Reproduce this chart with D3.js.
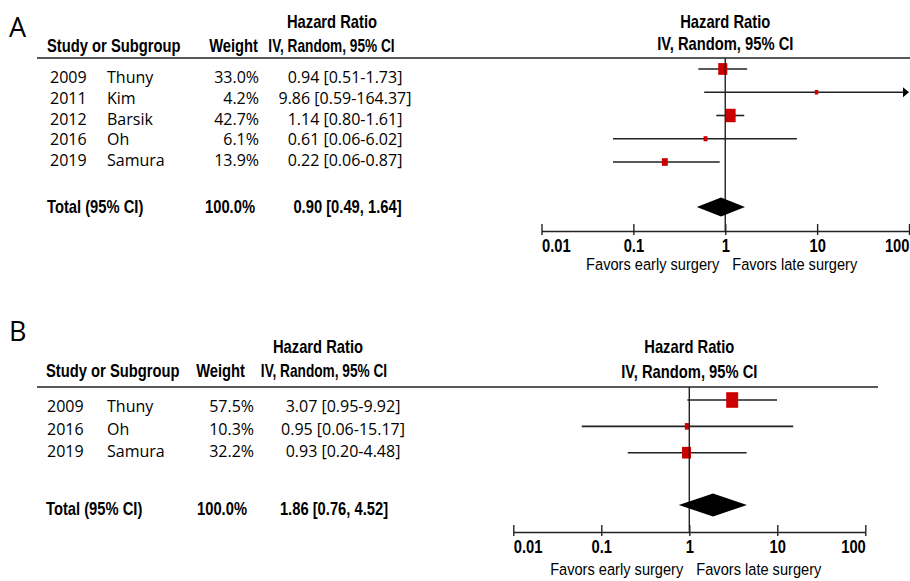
<!DOCTYPE html>
<html>
<head>
<meta charset="utf-8">
<script src="https://cdn.jsdelivr.net/npm/d3@7"></script>
<style>
  body { margin: 0; background: #fff; }
  .hd, .hd2 { font-family: "Liberation Sans", Arial, sans-serif; font-weight: bold; font-size: 18px; }
  .nr { font-family: "Liberation Sans", Arial, sans-serif; font-size: 17px; }
  .row { font-family: "Open Sans", sans-serif; font-size: 16px; }
  .panel { font-family: "Open Sans", sans-serif; font-size: 27px; }
</style>
</head>
<body>
<svg id="forest"></svg>
<script>
(function () {
var width = 910, height = 581
var svg = d3.select('#forest').attr('width', width).attr('height', height)

// panel A data
var yearsA = [2009, 2011, 2012, 2016, 2019]
var namesA = ['Thuny', 'Kim', 'Barsik', 'Oh', 'Samura']
var weightsA = [33.0, 4.2, 42.7, 6.1, 13.9]
var hrA = [0.94, 9.86, 1.14, 0.61, 0.22]
var lowA = [0.51, 0.59, 0.80, 0.06, 0.06]
var highA = [1.73, 164.37, 1.61, 6.02, 0.87]
var totalA = [0.90, 0.49, 1.64] // estimate, low, high

// panel B data
var yearsB = [2009, 2016, 2019]
var namesB = ['Thuny', 'Oh', 'Samura']
var weightsB = [57.5, 10.3, 32.2]
var hrB = [3.07, 0.95, 0.93]
var lowB = [0.95, 0.06, 0.20]
var highB = [9.92, 15.17, 4.48]
var totalB = [1.86, 0.76, 4.52]

var ticks = [0.01, 0.1, 1, 10, 100]
var tickLabels = ['0.01', '0.1', '1', '10', '100']

var red = '#cc0000'
var ink = '#222'
var f2 = d3.format('.2f')
var f1 = d3.format('.1f')

// size of the study squares (weight %)
var boxSize = d3.scaleSqrt().domain([0, 100]).range([0, 15.8])

// no narrow font installed, so squeeze the glyphs horizontally
function narrow(sel, k) {
    sel.each(function () {
        var t = d3.select(this)
        var x = +t.attr('x') || 0, y = +t.attr('y') || 0
        t.attr('x', 0).attr('y', 0)
         .attr('transform', 'translate(' + x + ',' + y + ') scale(' + k + ',1)')
    })
}

function panel(o, years, names, weights, hr, low, high, total) {
    var g = svg.append('g')
    var n = years.length
    var x = d3.scaleLog().domain([0.01, 100]).range(o.xr)
    var yText = d3.scaleLinear().domain([0, n - 1]).range(o.textRows)
    var yMark = d3.scaleLinear().domain([0, n - 1]).range(o.markRows)

    g.append('text').attr('class', 'panel').attr('x', 9).attr('y', o.letterY).text(o.letter)

    // table headers
    g.append('text').attr('class', 'hd').attr('x', o.hrHead).attr('y', o.head1)
        .attr('text-anchor', 'middle').text('Hazard Ratio')
    g.append('text').attr('class', 'hd').attr('x', o.col0).attr('y', o.head2).text('Study or Subgroup')
    g.append('text').attr('class', 'hd').attr('x', o.wHead).attr('y', o.head2)
        .attr('text-anchor', 'end').text('Weight')
    g.append('text').attr('class', 'hd2').attr('x', o.ivHead).attr('y', o.head2)
        .attr('text-anchor', 'middle').text('IV, Random, 95% CI')

    // plot headers
    g.append('text').attr('class', 'hd').attr('x', x(1)).attr('y', o.head1)
        .attr('text-anchor', 'middle').text('Hazard Ratio')
    g.append('text').attr('class', 'hd').attr('x', x(1)).attr('y', o.plotHead2)
        .attr('text-anchor', 'middle').text('IV, Random, 95% CI')

    g.append('line').attr('x1', 37).attr('x2', o.lineEnd).attr('y1', o.rule).attr('y2', o.rule)
        .attr('stroke', ink).attr('stroke-width', 1.6)

    // study rows
    var idx = d3.range(n)
    var rows = g.selectAll('g.r').data(idx).enter().append('g').attr('class', 'r')
    rows.append('text').attr('class', 'row').attr('x', o.yearX).attr('y', (i) => yText(i)).text((i) => years[i])
    rows.append('text').attr('class', 'row').attr('x', 107).attr('y', (i) => yText(i)).text((i) => names[i])
    rows.append('text').attr('class', 'row').attr('x', o.colW).attr('y', (i) => yText(i))
        .attr('text-anchor', 'end').text((i) => f1(weights[i]) + '%')
    rows.append('text').attr('class', 'row').attr('x', o.hrCol).attr('y', (i) => yText(i))
        .attr('text-anchor', 'middle')
        .text((i) => f2(hr[i]) + ' [' + f2(low[i]) + '-' + f2(high[i]) + ']')

    // total row
    g.append('text').attr('class', 'hd').attr('x', o.col0).attr('y', o.totalY).text('Total (95% CI)')
    g.append('text').attr('class', 'hd').attr('x', o.totW).attr('y', o.totalY)
        .attr('text-anchor', 'end').text('100.0%')
    g.append('text').attr('class', 'hd').attr('x', o.totHr).attr('y', o.totalY)
        .attr('text-anchor', 'middle')
        .text(f2(total[0]) + ' [' + f2(total[1]) + ', ' + f2(total[2]) + ']')

    // null line
    g.append('line').attr('x1', x(1)).attr('x2', x(1)).attr('y1', o.rule).attr('y2', o.axisY)
        .attr('stroke', ink).attr('stroke-width', 1.4)

    // confidence intervals
    var xmax = x.range()[1]
    rows.append('line')
        .attr('x1', (i) => x(Math.max(low[i], 0.01)))
        .attr('x2', (i) => high[i] > 100 ? xmax - 4 : x(high[i]))
        .attr('y1', (i) => yMark(i)).attr('y2', (i) => yMark(i))
        .attr('stroke', ink).attr('stroke-width', 1.6)
    rows.filter((i) => high[i] > 100).append('path')
        .attr('d', (i) => 'M' + (xmax - 6) + ',' + (yMark(i) - 5) + 'L' + xmax + ',' + yMark(i) +
            'L' + (xmax - 6) + ',' + (yMark(i) + 5) + 'Z')
        .attr('fill', '#000')
    rows.append('rect')
        .attr('x', (i) => x(hr[i]) - Math.max(boxSize(weights[i]), 3.5) / 2)
        .attr('y', (i) => yMark(i) - Math.max(boxSize(weights[i]), 3.5) * 0.65)
        .attr('width', (i) => Math.max(boxSize(weights[i]), 3.5))
        .attr('height', (i) => Math.max(boxSize(weights[i]), 3.5) * 1.3)
        .attr('fill', red)

    // pooled diamond
    g.append('path')
        .attr('d', 'M' + x(total[1]) + ',' + o.diamondY + 'L' + x(total[0]) + ',' + (o.diamondY - o.dh) +
            'L' + x(total[2]) + ',' + o.diamondY + 'L' + x(total[0]) + ',' + (o.diamondY + o.dh) + 'Z')
        .attr('fill', '#000')

    // axis
    var axis = d3.axisBottom(x).tickValues(ticks).tickSize(0).tickFormat((d, i) => tickLabels[i])
    var ax = g.append('g').attr('transform', 'translate(0,' + o.axisY + ')').call(axis)
    ax.attr('font-family', null).attr('font-size', null)
    ax.select('.domain').attr('stroke', ink).attr('stroke-width', 1.4)
    ax.selectAll('.tick line').attr('y1', -7).attr('y2', 4).attr('stroke', ink).attr('stroke-width', 1.4)
    ax.selectAll('.tick text').attr('class', 'hd').attr('fill', '#000').attr('dy', null)
        .attr('y', o.tickLabY - o.axisY)
        .attr('text-anchor', (d, i) => i === 0 ? 'start' : (i === ticks.length - 1 ? 'end' : 'middle'))

    g.append('text').attr('class', 'nr').attr('x', x(1) - 6).attr('y', o.favY)
        .attr('text-anchor', 'end').text('Favors early surgery')
    g.append('text').attr('class', 'nr').attr('x', x(1) + 7).attr('y', o.favY).text('Favors late surgery')

    narrow(g.selectAll('text.hd'), 0.82)
    narrow(g.selectAll('text.hd2'), 0.76)
    narrow(g.selectAll('text.nr'), 0.86)
}

panel({letter: 'A', letterY: 37, xr: [541.5, 909], head1: 28, head2: 52, plotHead2: 50, rule: 58,
       lineEnd: 910, col0: 47, yearX: 50, colW: 259, wHead: 258, hrHead: 332, ivHead: 331.5, hrCol: 345,
       totW: 255, totHr: 347.5,
       textRows: [83, 166], markRows: [69, 162], totalY: 213, diamondY: 207, dh: 9.5,
       axisY: 231, tickLabY: 252, favY: 270},
      yearsA, namesA, weightsA, hrA, lowA, highA, totalA)

panel({letter: 'B', letterY: 341, xr: [513.3, 865.3], head1: 353, head2: 377, plotHead2: 378, rule: 387,
       lineEnd: 878, col0: 46, yearX: 47, colW: 254, wHead: 245, hrHead: 318, ivHead: 324, hrCol: 343,
       totW: 247, totHr: 334,
       textRows: [412, 457], markRows: [400, 452.7], totalY: 515, diamondY: 505, dh: 11.5,
       axisY: 532, tickLabY: 553, favY: 575},
      yearsB, namesB, weightsB, hrB, lowB, highB, totalB)
})();
</script>
</body>
</html>
